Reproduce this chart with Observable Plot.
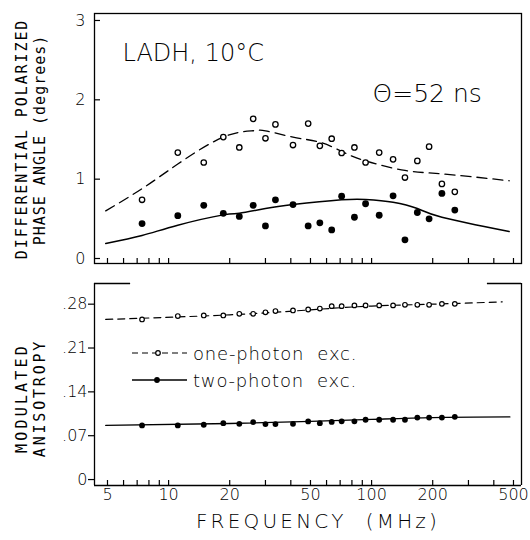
<!DOCTYPE html>
<html>
<head>
<meta charset="utf-8">
<script src="https://cdn.jsdelivr.net/npm/d3@7"></script>
<script src="https://cdn.jsdelivr.net/npm/@observablehq/plot@0.6"></script>
<style>
  html, body { margin: 0; padding: 0; background: #fff; }
  #wrap { position: relative; width: 530px; height: 540px; background: #fff; overflow: hidden; }
  #wrap > div, #wrap > svg { position: absolute; left: 0; }
</style>
</head>
<body>
<div id="wrap"></div>
<script>
// ---------- data ----------
const freq = [7.4, 11.1, 14.9, 18.6, 22.3, 26.1, 30, 33.6, 41, 48.7, 55.6, 63.6, 71.2, 82.3, 93.4, 109, 127.6, 146, 168, 192, 222, 257];

// differential polarized phase angle (degrees)
const phaseOne = [0.74, 1.335, 1.21, 1.53, 1.40, 1.76, 1.515, 1.69, 1.43, 1.70, 1.42, 1.51, 1.33, 1.40, 1.21, 1.335, 1.25, 1.02, 1.23, 1.41, 0.94, 0.84];
const phaseTwo = [0.44, 0.54, 0.67, 0.57, 0.53, 0.67, 0.41, 0.74, 0.68, 0.41, 0.45, 0.36, 0.785, 0.52, 0.69, 0.545, 0.79, 0.235, 0.58, 0.50, 0.82, 0.61];

// modulated anisotropy
const anisOne = [0.2556, 0.261, 0.262, 0.262, 0.2646, 0.2646, 0.267, 0.269, 0.270, 0.2715, 0.273, 0.2768, 0.2768, 0.278, 0.278, 0.278, 0.278, 0.279, 0.279, 0.279, 0.2805, 0.2805];
const anisTwo = [0.0864, 0.0864, 0.0875, 0.090, 0.089, 0.0918, 0.0886, 0.0886, 0.089, 0.0928, 0.090, 0.092, 0.093, 0.093, 0.0955, 0.0955, 0.0955, 0.0955, 0.099, 0.099, 0.099, 0.1002];

// fitted curves (theta = 52 ns)
const fitPhaseOneF = [4.9, 7.4, 11.1, 18.6, 26.1, 30, 41, 55.6, 71.2, 93.4, 146, 222, 476];
const fitPhaseOneV = [0.60, 0.88, 1.19, 1.53, 1.61, 1.61, 1.53, 1.465, 1.35, 1.23, 1.11, 1.067, 0.98];
const fitPhaseTwoF = [4.9, 7.4, 11.1, 18.6, 22.3, 30, 41, 71.2, 93.4, 127.6, 168, 222, 476];
const fitPhaseTwoV = [0.19, 0.29, 0.42, 0.55, 0.57, 0.63, 0.68, 0.74, 0.745, 0.71, 0.63, 0.52, 0.34];
const fitAnisOneF = [4.9, 20, 50, 100, 200, 440];
const fitAnisOneV = [0.2556, 0.263, 0.271, 0.277, 0.280, 0.2837];
const fitAnisTwoF = [4.9, 20, 50, 100, 200, 480];
const fitAnisTwoV = [0.0864, 0.0895, 0.093, 0.096, 0.099, 0.100];

// axes
const xDomain = [4.315, 547.6];
const xLabelTicks = [5, 10, 20, 50, 100, 200, 500];
const xMinorTicks = [5, 6, 7, 8, 9, 10, 20, 30, 40, 50, 60, 70, 80, 90, 100, 200, 300, 400, 500];
const yTopTicks = [0, 1, 2, 3];
const yBotTicks = [0, 0.07, 0.14, 0.21, 0.28];
const yBotTickLabels = ["0", ".07", ".14", ".21", ".28"];

const legendLabels = ["one-photon exc.", "two-photon exc."];
const topNotes = ["LADH, 10°C", "Θ=52 ns"];

// ---------- helpers ----------
const rows = (xs, ys) => xs.map((x, i) => ({x, y: ys[i]}));
const FONT = "DejaVu Sans";
const wrap = document.getElementById("wrap");

// ---------- top panel ----------
const topPlot = Plot.plot({
  width: 530, height: 270,
  marginLeft: 94, marginRight: 9, marginTop: 13, marginBottom: 7,
  x: {type: "log", domain: xDomain},
  y: {domain: [-0.063, 3.088]},
  style: {fontFamily: FONT, fontSize: "16px", color: "black", background: "white", overflow: "visible"},
  marks: [
    Plot.frame({stroke: "black", strokeWidth: 1.3}),
    Plot.axisY({ticks: yTopTicks, tickSize: 6, dx: 6, tickFormat: () => "", label: null, strokeWidth: 1.2}),
    Plot.axisY({ticks: yTopTicks, tickSize: 0, tickPadding: 9, tickFormat: d => String(d), label: null, fontWeight: 300}),
    Plot.axisX({ticks: xMinorTicks, tickSize: 5, dy: -5, tickFormat: () => "", label: null, strokeWidth: 1.2}),
    Plot.line(rows(fitPhaseOneF, fitPhaseOneV), {x: "x", y: "y", curve: "natural", stroke: "black", strokeWidth: 1.3, strokeDasharray: "10,6"}),
    Plot.line(rows(fitPhaseTwoF, fitPhaseTwoV), {x: "x", y: "y", curve: "natural", stroke: "black", strokeWidth: 1.5}),
    Plot.dot(rows(freq, phaseOne), {x: "x", y: "y", r: 2.7, stroke: "black", fill: "white", strokeWidth: 1.3}),
    Plot.dot(rows(freq, phaseTwo), {x: "x", y: "y", r: 3.4, fill: "black", stroke: "none"}),
    Plot.text([topNotes[0]], {frameAnchor: "top-left", textAnchor: "start", lineAnchor: "middle", dx: 28, dy: 40, fontSize: 24, fontWeight: 200, fill: "black"}),
    Plot.text([topNotes[1]], {frameAnchor: "top-left", textAnchor: "start", lineAnchor: "middle", dx: 278, dy: 80, fontSize: 25, fontWeight: 200, fill: "black"})
  ]
});
const topDiv = document.createElement("div");
topDiv.style.top = "0px";
topDiv.appendChild(topPlot);
wrap.appendChild(topDiv);

// ---------- bottom panel ----------
const botPlot = Plot.plot({
  width: 530, height: 270,
  marginLeft: 94, marginRight: 9, marginTop: 13, marginBottom: 55,
  x: {type: "log", domain: xDomain},
  y: {domain: [-0.0095, 0.313]},
  style: {fontFamily: FONT, fontSize: "16px", color: "black", background: "white", overflow: "visible"},
  marks: [
    Plot.ruleX([xDomain[0], xDomain[1]], {stroke: "black", strokeWidth: 1.3}),
    Plot.ruleY([-0.0095], {stroke: "black", strokeWidth: 1.3}),
    Plot.ruleY([0.313], {x1: xDomain[0], x2: 6.5, stroke: "black", strokeWidth: 1.3}),
    Plot.ruleY([0.313], {x1: 372, x2: xDomain[1], stroke: "black", strokeWidth: 1.3}),
    Plot.axisY({ticks: yBotTicks, tickSize: 6, tickPadding: 1, tickFormat: (d, i) => yBotTickLabels[i], label: null, strokeWidth: 1.2, fontWeight: 300}),
    Plot.axisX({ticks: xMinorTicks, tickSize: 5, dy: -5, tickFormat: () => "", label: null, strokeWidth: 1.2}),
    Plot.axisX({ticks: xLabelTicks, tickSize: 0, tickPadding: 3, tickFormat: d => String(d), label: null, fontWeight: 300}),
    Plot.line(rows(fitAnisOneF, fitAnisOneV), {x: "x", y: "y", curve: "natural", stroke: "black", strokeWidth: 1.2, strokeDasharray: "7,5"}),
    Plot.line(rows(fitAnisTwoF, fitAnisTwoV), {x: "x", y: "y", curve: "natural", stroke: "black", strokeWidth: 1.3}),
    Plot.dot(rows(freq, anisOne), {x: "x", y: "y", r: 2.3, stroke: "black", fill: "white", strokeWidth: 1.2}),
    Plot.dot(rows(freq, anisTwo), {x: "x", y: "y", r: 2.9, fill: "black", stroke: "none"})
  ]
});
const botDiv = document.createElement("div");
botDiv.style.top = "270px";
botDiv.appendChild(botPlot);
wrap.appendChild(botDiv);

// ---------- overlay: axis titles and legend ----------
const ov = d3.select(wrap).append("svg")
  .attr("width", 530).attr("height", 540)
  .style("top", "0px").style("pointer-events", "none")
  .attr("font-family", "DejaVu Sans Mono").attr("fill", "black");

function vtext(x, y, s, size, ls) {
  ov.append("text").attr("transform", `translate(${x},${y}) rotate(-90)`)
    .attr("text-anchor", "middle").attr("dominant-baseline", "central")
    .attr("font-size", size).attr("letter-spacing", ls).attr("font-weight", 300).text(s);
}
vtext(22, 139, "DIFFERENTIAL POLARIZED", 15, 1.9);
vtext(40, 140, "PHASE ANGLE (degrees)", 15, 1.0);
vtext(22, 398, "MODULATED", 15, 3.2);
vtext(40, 398, "ANISOTROPY", 15, 2.8);

ov.append("text").attr("x", 318).attr("y", 521)
  .attr("text-anchor", "middle").attr("dominant-baseline", "central")
  .attr("font-family", FONT).attr("font-weight", 200)
  .attr("font-size", 20).attr("letter-spacing", 3.2)
  .style("white-space", "pre")
  .text("FREQUENCY  (MHz)");

// legend
const lg = ov.append("g").attr("font-family", FONT);
lg.append("line").attr("x1", 132).attr("x2", 187).attr("y1", 353).attr("y2", 353)
  .attr("stroke", "black").attr("stroke-width", 1.2).attr("stroke-dasharray", "6,4");
lg.append("circle").attr("cx", 158).attr("cy", 353).attr("r", 2.3)
  .attr("fill", "white").attr("stroke", "black").attr("stroke-width", 1.2);
lg.append("line").attr("x1", 132).attr("x2", 187).attr("y1", 380).attr("y2", 380)
  .attr("stroke", "black").attr("stroke-width", 1.3);
lg.append("circle").attr("cx", 157).attr("cy", 380).attr("r", 2.9).attr("fill", "black");
legendLabels.forEach((s, i) => {
  lg.append("text").attr("x", 193).attr("y", 353 + i * 27)
    .attr("dominant-baseline", "central").attr("font-size", 18)
    .attr("font-weight", 200).attr("letter-spacing", 0.8)
    .style("white-space", "pre").text(s.replace(" exc.", "  exc."));
});
</script>
</body>
</html>
